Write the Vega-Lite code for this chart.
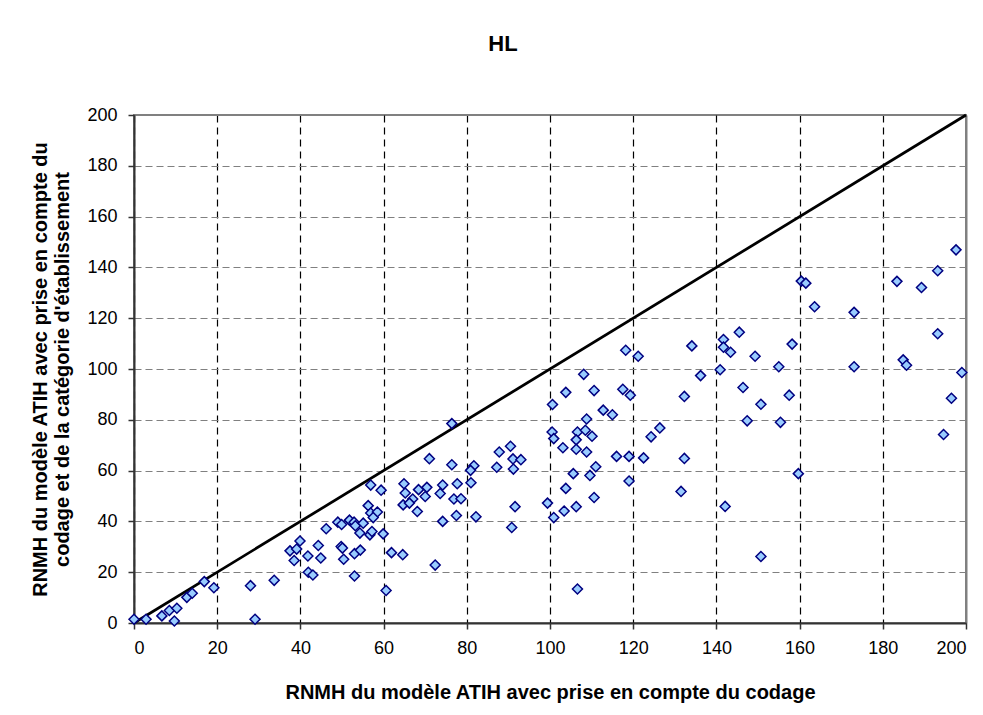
{
  "$schema": "https://vega.github.io/schema/vega-lite/v6.json",
  "autosize": "none",
  "width": 832,
  "height": 508,
  "padding": {"left": 134, "top": 115, "right": 17, "bottom": 92},
  "background": "white",
  "config": {
    "font": "Liberation Sans",
    "view": {"stroke": "#808080", "strokeWidth": 2},
    "axis": {"labelFont": "Liberation Sans", "titleFont": "Liberation Sans"}
  },
  "title": {
    "text": "HL",
    "font": "Liberation Sans",
    "fontSize": 22,
    "fontWeight": "bold",
    "color": "black",
    "anchor": "middle",
    "dx": -47,
    "offset": 50
  },
  "datasets": {
    "pts": [
      {"x": 0, "y": 1.5}, {"x": 2.9, "y": 1.5}, {"x": 6.7, "y": 2.8}, {"x": 8.5, "y": 4.9}, {"x": 10.3, "y": 5.8},
      {"x": 9.7, "y": 0.8}, {"x": 12.7, "y": 10.1}, {"x": 14, "y": 11.7}, {"x": 16.9, "y": 16.3}, {"x": 19.2, "y": 13.9},
      {"x": 28, "y": 14.7}, {"x": 29.1, "y": 1.5}, {"x": 33.7, "y": 16.8}, {"x": 37.5, "y": 28.4}, {"x": 39.9, "y": 32.3},
      {"x": 39.1, "y": 29.1}, {"x": 38.5, "y": 24.6}, {"x": 41.8, "y": 26.4}, {"x": 41.9, "y": 20}, {"x": 43, "y": 18.9},
      {"x": 76.4, "y": 78.5}, {"x": 71, "y": 64.7}, {"x": 76.4, "y": 62.3}, {"x": 81.7, "y": 61.9}, {"x": 80.9, "y": 60.1},
      {"x": 87.2, "y": 61.3}, {"x": 87.8, "y": 67.3}, {"x": 56.9, "y": 54.3}, {"x": 59.4, "y": 52.3}, {"x": 64.9, "y": 54.8},
      {"x": 65.2, "y": 51.2}, {"x": 68.4, "y": 52.5}, {"x": 70.4, "y": 53.4}, {"x": 74.2, "y": 54.3}, {"x": 77.7, "y": 54.8},
      {"x": 73.6, "y": 51}, {"x": 81, "y": 55.2}, {"x": 67, "y": 48.8}, {"x": 64.7, "y": 46.5}, {"x": 66.2, "y": 47.2},
      {"x": 70, "y": 49.8}, {"x": 76.9, "y": 48.8}, {"x": 78.6, "y": 48.9}, {"x": 68.1, "y": 43.9}, {"x": 74.2, "y": 40},
      {"x": 77.5, "y": 42.3}, {"x": 82.2, "y": 41.8}, {"x": 56.3, "y": 46.2}, {"x": 56.9, "y": 43.3}, {"x": 58.5, "y": 43.7},
      {"x": 57.5, "y": 41.5}, {"x": 51.8, "y": 40.5}, {"x": 49, "y": 39.7}, {"x": 49.9, "y": 38.8}, {"x": 52.9, "y": 39.7},
      {"x": 53.2, "y": 38.3}, {"x": 55.1, "y": 39.3}, {"x": 54.3, "y": 35.4}, {"x": 56.7, "y": 34.7}, {"x": 57.2, "y": 36},
      {"x": 59.9, "y": 35.1}, {"x": 46.2, "y": 37.1}, {"x": 44.3, "y": 30.5}, {"x": 44.9, "y": 25.6}, {"x": 49.8, "y": 30.1},
      {"x": 50.1, "y": 29.5}, {"x": 50.4, "y": 25.1}, {"x": 53, "y": 27.3}, {"x": 54.4, "y": 28.7}, {"x": 61.9, "y": 27.7},
      {"x": 64.6, "y": 26.9}, {"x": 53, "y": 18.5}, {"x": 72.4, "y": 22.8}, {"x": 60.6, "y": 12.8},
      {"x": 118.2, "y": 107.4}, {"x": 121.2, "y": 105}, {"x": 108.1, "y": 97.9}, {"x": 103.8, "y": 90.8}, {"x": 110.6, "y": 91.5},
      {"x": 117.5, "y": 92}, {"x": 119.3, "y": 89.7}, {"x": 100.6, "y": 86}, {"x": 112.8, "y": 83.8}, {"x": 115, "y": 82},
      {"x": 108.8, "y": 80.3}, {"x": 126.4, "y": 76.8}, {"x": 124.3, "y": 73.3}, {"x": 100.5, "y": 75.2}, {"x": 100.9, "y": 72.6},
      {"x": 106.6, "y": 75.2}, {"x": 108.5, "y": 75.9}, {"x": 110.1, "y": 73.5}, {"x": 106.3, "y": 72.1}, {"x": 103.1, "y": 69},
      {"x": 106.3, "y": 68.4}, {"x": 108.8, "y": 67.3}, {"x": 116, "y": 65.6}, {"x": 119, "y": 65.6}, {"x": 122.5, "y": 65},
      {"x": 90.5, "y": 69.6}, {"x": 91.1, "y": 64.6}, {"x": 93, "y": 64.3}, {"x": 91.2, "y": 60.6}, {"x": 111, "y": 61.5},
      {"x": 109.6, "y": 58.1}, {"x": 105.6, "y": 58.8}, {"x": 119, "y": 55.9}, {"x": 103.8, "y": 53}, {"x": 110.6, "y": 49.4},
      {"x": 91.6, "y": 45.8}, {"x": 99.4, "y": 47.2}, {"x": 106.3, "y": 45.8}, {"x": 103.4, "y": 44.1}, {"x": 100.9, "y": 41.5},
      {"x": 90.8, "y": 37.6}, {"x": 106.6, "y": 13.4},
      {"x": 197.6, "y": 146.9}, {"x": 193.2, "y": 138.7}, {"x": 183.4, "y": 134.5}, {"x": 189.3, "y": 132.1}, {"x": 160.4, "y": 134.6},
      {"x": 161.5, "y": 133.8}, {"x": 163.6, "y": 124.5}, {"x": 173.1, "y": 122.3}, {"x": 193.2, "y": 113.9}, {"x": 145.5, "y": 114.5},
      {"x": 141.7, "y": 111.6}, {"x": 134.1, "y": 109.1}, {"x": 141.7, "y": 108.6}, {"x": 143.4, "y": 106.6}, {"x": 158.2, "y": 109.8},
      {"x": 149.3, "y": 105}, {"x": 155, "y": 100.9}, {"x": 140.9, "y": 99.7}, {"x": 173.1, "y": 100.9}, {"x": 184.9, "y": 103.6},
      {"x": 185.7, "y": 101.5}, {"x": 199, "y": 98.6}, {"x": 136.2, "y": 97.4}, {"x": 146.4, "y": 92.7}, {"x": 132.3, "y": 89.2},
      {"x": 157.5, "y": 89.7}, {"x": 150.7, "y": 86.1}, {"x": 196.5, "y": 88.5}, {"x": 147.4, "y": 79.6}, {"x": 155.4, "y": 79},
      {"x": 194.6, "y": 74.2}, {"x": 132.3, "y": 64.8}, {"x": 159.7, "y": 58.8}, {"x": 131.5, "y": 51.8}, {"x": 142.1, "y": 45.9},
      {"x": 150.7, "y": 26.2}
    ],
    "diag": [{"x": 0, "y": 0}, {"x": 200, "y": 200}]
  },
  "layer": [
    {
      "data": {"name": "diag"},
      "mark": {"type": "line", "color": "black", "strokeWidth": 2.75, "clip": false},
      "encoding": {
        "x": {
          "field": "x", "type": "quantitative",
          "scale": {"domain": [0, 200], "nice": false},
          "axis": {
            "title": "RNMH du modèle ATIH avec prise en compte du codage",
            "values": [0, 20, 40, 60, 80, 100, 120, 140, 160, 180, 200],
            "labelFontSize": 18, "labelColor": "black", "labelPadding": 10,
            "titleFontSize": 20, "titleFontWeight": "bold", "titleColor": "black", "titlePadding": 25,
            "domainColor": "#333333", "domainWidth": 2,
            "tickColor": "#333333", "tickSize": 6, "tickWidth": 1.5,
            "grid": true,
            "gridColor": {"condition": {"test": "datum.value === 200", "value": "#808080"}, "value": "black"},
            "gridDash": {"condition": {"test": "datum.value === 200", "value": []}, "value": [7, 5]},
            "gridWidth": {"condition": {"test": "datum.value === 200", "value": 2}, "value": 1.2}
          }
        },
        "y": {
          "field": "y", "type": "quantitative",
          "scale": {"domain": [0, 200], "nice": false},
          "axis": {
            "title": ["RNMH du modèle ATIH avec prise en compte du", "codage et de la catégorie d'établissement"],
            "values": [0, 20, 40, 60, 80, 100, 120, 140, 160, 180, 200],
            "labelFontSize": 18, "labelColor": "black", "labelPadding": 11,
            "titleFontSize": 20, "titleFontWeight": "bold", "titleColor": "black", "titlePadding": 14, "titleLineHeight": 22,
            "domainColor": "#333333", "domainWidth": 2,
            "tickColor": "#333333", "tickSize": 6, "tickWidth": 1.5,
            "grid": true, "gridColor": "#808080", "gridDash": [7, 4], "gridWidth": 1.2
          }
        }
      }
    },
    {
      "data": {"name": "pts"},
      "mark": {"type": "point", "shape": "diamond", "filled": true, "fill": "#99CCFF", "stroke": "#000080", "strokeWidth": 1.5, "size": 100, "opacity": 1, "clip": false},
      "encoding": {
        "x": {"field": "x", "type": "quantitative"},
        "y": {"field": "y", "type": "quantitative"}
      }
    }
  ]
}
